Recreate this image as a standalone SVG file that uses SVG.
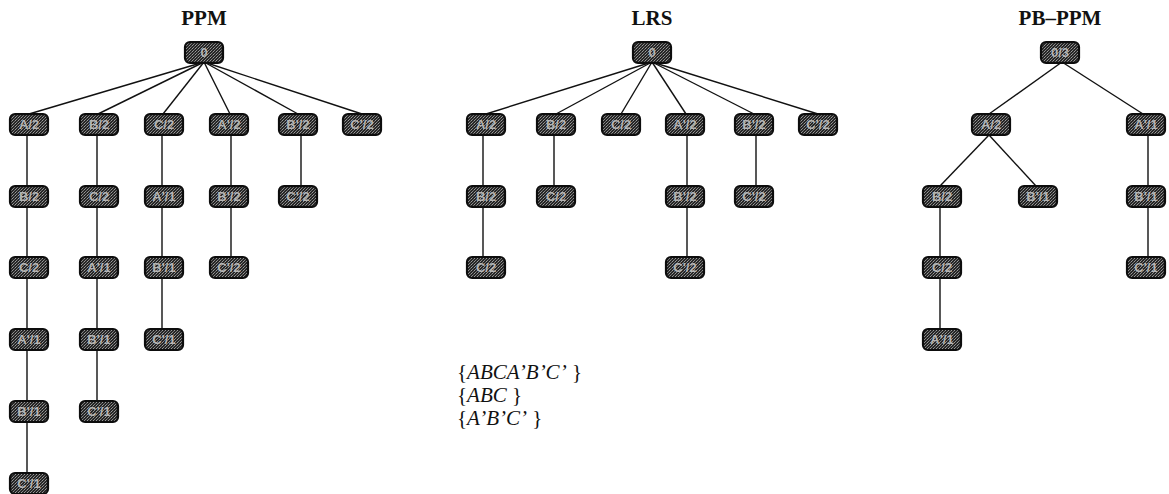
<svg xmlns="http://www.w3.org/2000/svg" width="1169" height="494" viewBox="0 0 1169 494">
  <defs>
    <!-- stippled halftone fill used inside every node -->
    <pattern id="stipple" width="3" height="3" patternUnits="userSpaceOnUse">
      <rect width="3" height="3" fill="#262626"/>
      <rect x="0" y="0" width="1" height="1" fill="#9a9a9a"/>
      <rect x="2" y="1" width="1" height="1" fill="#6e6e6e"/>
      <rect x="1" y="2" width="1" height="1" fill="#888"/>
    </pattern>
    <style>
      .node rect { fill: url(#stipple); stroke: #0d0d0d; stroke-width: 2.2; }
      .node text { font-family: "Liberation Sans", Arial, sans-serif; font-size: 13px; font-weight: bold; fill: #b4b4b4; text-anchor: middle; dominant-baseline: central; }
      .edges line { stroke: #111; stroke-width: 1.4; }
      .title { font-family: "Liberation Serif", "Times New Roman", serif; font-size: 21px; font-weight: bold; fill: #111; text-anchor: middle; }
      .set { font-family: "Liberation Serif", "Times New Roman", serif; font-size: 21px; fill: #111; }
      .set tspan.v { font-style: italic; }
    </style>
  </defs>
  <rect width="1169" height="494" fill="#fff"/>

  <text class="title" x="204" y="25">PPM</text>
  <text class="title" x="652" y="25">LRS</text>
  <text class="title" x="1060" y="25">PB–PPM</text>

  <!-- connectors -->
  <g class="edges">
    <!-- PPM -->
    <line x1="204" y1="62" x2="29" y2="114"/>
    <line x1="204" y1="62" x2="98" y2="114"/>
    <line x1="204" y1="62" x2="163" y2="114"/>
    <line x1="204" y1="62" x2="230" y2="114"/>
    <line x1="204" y1="62" x2="298" y2="114"/>
    <line x1="204" y1="62" x2="362" y2="114"/>
    <line x1="27" y1="135" x2="27" y2="473"/>
    <line x1="97" y1="135" x2="97" y2="401"/>
    <line x1="162" y1="135" x2="162" y2="329"/>
    <line x1="231" y1="135" x2="231" y2="257"/>
    <line x1="301" y1="135" x2="301" y2="186"/>
    <!-- LRS -->
    <line x1="652" y1="62" x2="486" y2="114"/>
    <line x1="652" y1="62" x2="556" y2="114"/>
    <line x1="652" y1="62" x2="621" y2="114"/>
    <line x1="652" y1="62" x2="686" y2="114"/>
    <line x1="652" y1="62" x2="754" y2="114"/>
    <line x1="652" y1="62" x2="818" y2="114"/>
    <line x1="483" y1="135" x2="483" y2="257"/>
    <line x1="554" y1="135" x2="554" y2="186"/>
    <line x1="687" y1="135" x2="687" y2="257"/>
    <line x1="756" y1="135" x2="756" y2="186"/>
    <!-- PB-PPM -->
    <line x1="1062" y1="62" x2="989" y2="114"/>
    <line x1="1062" y1="62" x2="1143" y2="114"/>
    <line x1="989" y1="135" x2="940" y2="186"/>
    <line x1="989" y1="135" x2="1036" y2="186"/>
    <line x1="940" y1="207" x2="940" y2="329"/>
    <line x1="1148" y1="135" x2="1148" y2="257"/>
  </g>

  <!-- PPM nodes -->
  <g id="ppm-root" class="node"><rect x="185" y="42" width="38" height="21" rx="5"/><text x="204" y="52.5">0</text></g>
  <g id="ppm-a" class="node"><rect x="10" y="114" width="38" height="21" rx="5"/><text x="29" y="124.5">A/2</text></g>
  <g id="ppm-ab" class="node"><rect x="10" y="186" width="38" height="21" rx="5"/><text x="29" y="196.5">B/2</text></g>
  <g id="ppm-abc" class="node"><rect x="10" y="257" width="38" height="21" rx="5"/><text x="29" y="267.5">C/2</text></g>
  <g id="ppm-abca" class="node"><rect x="10" y="329" width="38" height="21" rx="5"/><text x="29" y="339.5">A'/1</text></g>
  <g id="ppm-abcab" class="node"><rect x="10" y="401" width="38" height="21" rx="5"/><text x="29" y="411.5">B'/1</text></g>
  <g id="ppm-abcabc" class="node"><rect x="10" y="473" width="38" height="21" rx="5"/><text x="29" y="483.5">C'/1</text></g>
  <g id="ppm-b" class="node"><rect x="80" y="114" width="38" height="21" rx="5"/><text x="99" y="124.5">B/2</text></g>
  <g id="ppm-bc" class="node"><rect x="80" y="186" width="38" height="21" rx="5"/><text x="99" y="196.5">C/2</text></g>
  <g id="ppm-bca" class="node"><rect x="80" y="257" width="38" height="21" rx="5"/><text x="99" y="267.5">A'/1</text></g>
  <g id="ppm-bcab" class="node"><rect x="80" y="329" width="38" height="21" rx="5"/><text x="99" y="339.5">B'/1</text></g>
  <g id="ppm-bcabc" class="node"><rect x="80" y="401" width="38" height="21" rx="5"/><text x="99" y="411.5">C'/1</text></g>
  <g id="ppm-c" class="node"><rect x="145" y="114" width="38" height="21" rx="5"/><text x="164" y="124.5">C/2</text></g>
  <g id="ppm-ca" class="node"><rect x="145" y="186" width="38" height="21" rx="5"/><text x="164" y="196.5">A'/1</text></g>
  <g id="ppm-cab" class="node"><rect x="145" y="257" width="38" height="21" rx="5"/><text x="164" y="267.5">B'/1</text></g>
  <g id="ppm-cabc" class="node"><rect x="145" y="329" width="38" height="21" rx="5"/><text x="164" y="339.5">C'/1</text></g>
  <g id="ppm-a2" class="node"><rect x="210" y="114" width="38" height="21" rx="5"/><text x="229" y="124.5">A'/2</text></g>
  <g id="ppm-a2b" class="node"><rect x="210" y="186" width="38" height="21" rx="5"/><text x="229" y="196.5">B'/2</text></g>
  <g id="ppm-a2bc" class="node"><rect x="210" y="257" width="38" height="21" rx="5"/><text x="229" y="267.5">C'/2</text></g>
  <g id="ppm-b2" class="node"><rect x="279" y="114" width="38" height="21" rx="5"/><text x="298" y="124.5">B'/2</text></g>
  <g id="ppm-b2c" class="node"><rect x="279" y="186" width="38" height="21" rx="5"/><text x="298" y="196.5">C'/2</text></g>
  <g id="ppm-c2" class="node"><rect x="343" y="114" width="38" height="21" rx="5"/><text x="362" y="124.5">C'/2</text></g>

  <!-- LRS nodes -->
  <g id="lrs-root" class="node"><rect x="633" y="42" width="38" height="21" rx="5"/><text x="652" y="52.5">0</text></g>
  <g id="lrs-a" class="node"><rect x="467" y="114" width="38" height="21" rx="5"/><text x="486" y="124.5">A/2</text></g>
  <g id="lrs-ab" class="node"><rect x="467" y="186" width="38" height="21" rx="5"/><text x="486" y="196.5">B/2</text></g>
  <g id="lrs-abc" class="node"><rect x="467" y="257" width="38" height="21" rx="5"/><text x="486" y="267.5">C/2</text></g>
  <g id="lrs-b" class="node"><rect x="537" y="114" width="38" height="21" rx="5"/><text x="556" y="124.5">B/2</text></g>
  <g id="lrs-bc" class="node"><rect x="537" y="186" width="38" height="21" rx="5"/><text x="556" y="196.5">C/2</text></g>
  <g id="lrs-c" class="node"><rect x="602" y="114" width="38" height="21" rx="5"/><text x="621" y="124.5">C/2</text></g>
  <g id="lrs-a2" class="node"><rect x="666" y="114" width="38" height="21" rx="5"/><text x="685" y="124.5">A'/2</text></g>
  <g id="lrs-a2b" class="node"><rect x="666" y="186" width="38" height="21" rx="5"/><text x="685" y="196.5">B'/2</text></g>
  <g id="lrs-a2bc" class="node"><rect x="666" y="257" width="38" height="21" rx="5"/><text x="685" y="267.5">C'/2</text></g>
  <g id="lrs-b2" class="node"><rect x="735" y="114" width="38" height="21" rx="5"/><text x="754" y="124.5">B'/2</text></g>
  <g id="lrs-b2c" class="node"><rect x="735" y="186" width="38" height="21" rx="5"/><text x="754" y="196.5">C'/2</text></g>
  <g id="lrs-c2" class="node"><rect x="799" y="114" width="38" height="21" rx="5"/><text x="818" y="124.5">C'/2</text></g>

  <!-- PB-PPM nodes -->
  <g id="pb-root" class="node"><rect x="1041" y="42" width="38" height="21" rx="5"/><text x="1060" y="52.5">0/3</text></g>
  <g id="pb-a" class="node"><rect x="972" y="114" width="38" height="21" rx="5"/><text x="991" y="124.5">A/2</text></g>
  <g id="pb-ab" class="node"><rect x="923" y="186" width="38" height="21" rx="5"/><text x="942" y="196.5">B/2</text></g>
  <g id="pb-abc" class="node"><rect x="923" y="257" width="38" height="21" rx="5"/><text x="942" y="267.5">C/2</text></g>
  <g id="pb-abca" class="node"><rect x="923" y="329" width="38" height="21" rx="5"/><text x="942" y="339.5">A'/1</text></g>
  <g id="pb-ab2" class="node"><rect x="1019" y="186" width="38" height="21" rx="5"/><text x="1038" y="196.5">B'/1</text></g>
  <g id="pb-a2" class="node"><rect x="1127" y="114" width="38" height="21" rx="5"/><text x="1146" y="124.5">A'/1</text></g>
  <g id="pb-a2b" class="node"><rect x="1127" y="186" width="38" height="21" rx="5"/><text x="1146" y="196.5">B'/1</text></g>
  <g id="pb-a2bc" class="node"><rect x="1127" y="257" width="38" height="21" rx="5"/><text x="1146" y="267.5">C'/1</text></g>

  <!-- request sets -->
  <text class="set" x="457" y="379">{<tspan class="v">ABCA’B’C’</tspan> }</text>
  <text class="set" x="457" y="402">{<tspan class="v">ABC</tspan> }</text>
  <text class="set" x="457" y="425">{<tspan class="v">A’B’C’</tspan> }</text>
</svg>
